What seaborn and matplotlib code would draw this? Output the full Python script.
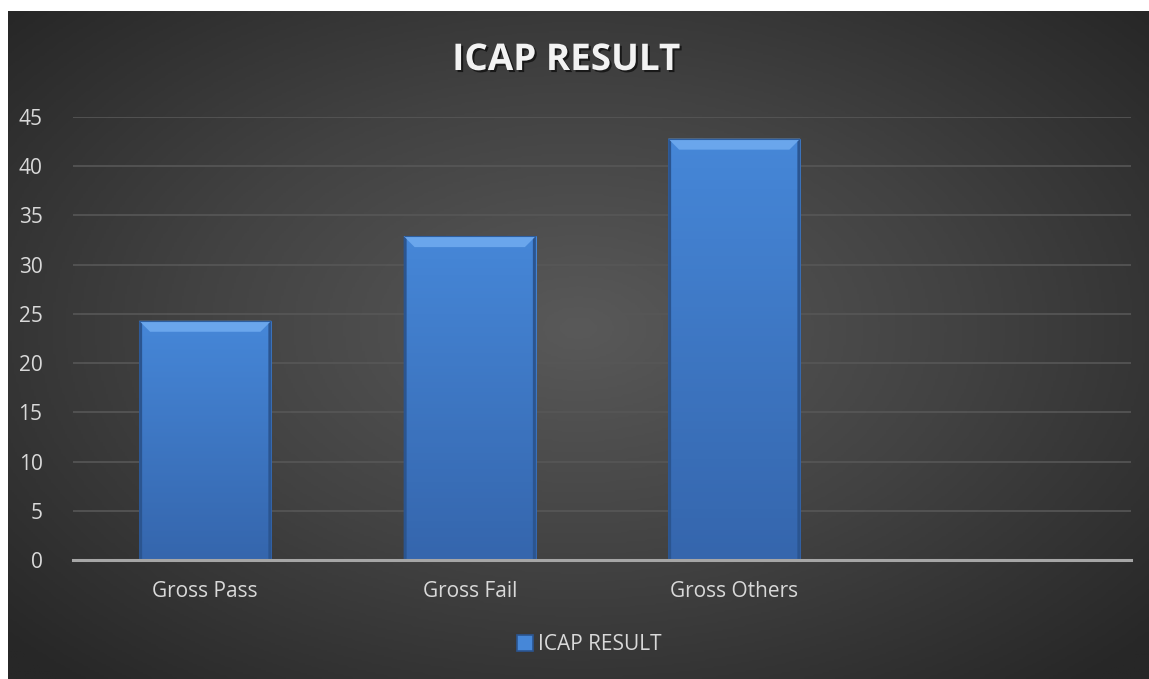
import numpy as np
import matplotlib
matplotlib.use("Agg")
import matplotlib.pyplot as plt
import seaborn as sns
import pandas as pd
from matplotlib.colors import LinearSegmentedColormap
from matplotlib.patches import Polygon, Patch
import matplotlib.patheffects as pe


TITLE = "ICAP RESULT"
SERIES_NAME = "ICAP RESULT"
CATEGORIES = ["Gross Pass", "Gross Fail", "Gross Others"]
VALUES = [24.3, 32.9, 42.8]
Y_TICKS = [0, 5, 10, 15, 20, 25, 30, 35, 40, 45]

W, H = 1149, 679
TEXT_COLOR = "#d9d9d9"
BAR_TOP = "#4687d8"
BAR_BOTTOM = "#3566ad"
BEVEL_LIGHT = "#6aa6ec"
BEVEL_DARK = "#2b5590"

sns.set_theme(style="dark")
plt.rcParams["font.family"] = ["Open Sans", "DejaVu Sans"]

df = pd.DataFrame({"category": CATEGORIES, "value": VALUES})

fig = plt.figure(figsize=(W / 100, H / 100), dpi=100)
fig.patch.set_facecolor("white")

# radial dark background of the chart area
bg = fig.add_axes([8 / W, 0, (W - 8) / W, (H - 11) / H])
bg.set_axis_off()
yy, xx = np.mgrid[-1:1:300j, -1:1:500j]
r = np.sqrt((xx / 1.0) ** 2 + ((yy + 0.05) / 1.05) ** 2)
bg_cmap = LinearSegmentedColormap.from_list("bg", ["#595959", "#424242", "#272727"])
bg.imshow(np.clip(r / 1.35, 0, 1), cmap=bg_cmap, aspect="auto", vmin=0, vmax=1,
          extent=[0, 1, 0, 1])
bg.set_xlim(0, 1)
bg.set_ylim(0, 1)

ax = fig.add_axes([73 / W, 119 / H, (1131 - 73) / W, 443 / H])
ax.patch.set_alpha(0)

sns.barplot(data=df, x="category", y="value", color=BAR_TOP, width=0.5,
            saturation=1, ax=ax, zorder=3, linewidth=0)

ax.set_xlim(-0.5, 3.5)
ax.set_ylim(0, 45)
ax.set_yticks(Y_TICKS)
ax.set_xlabel("")
ax.set_ylabel("")
ax.grid(axis="y", color="#575757", linewidth=1.2, zorder=0)
ax.grid(axis="x", visible=False)
for side in ["top", "right", "left"]:
    ax.spines[side].set_visible(False)
ax.spines["bottom"].set_color("#a6a6a6")
ax.spines["bottom"].set_linewidth(2.2)
ax.spines["bottom"].set_zorder(5)
ax.tick_params(axis="y", length=0, pad=22, labelsize=15, labelcolor=TEXT_COLOR)
ax.tick_params(axis="x", length=0, pad=15, labelsize=15, labelcolor=TEXT_COLOR)

# bevel look on each bar
grad = np.linspace(1, 0, 100).reshape(-1, 1)
bar_cmap = LinearSegmentedColormap.from_list("bar", [BAR_BOTTOM, BAR_TOP])
fig.canvas.draw()
inv = ax.transData.inverted()
for bar in list(ax.patches):
    x0, y0 = bar.get_x(), bar.get_y()
    x1, y1 = x0 + bar.get_width(), y0 + bar.get_height()
    im = ax.imshow(grad, extent=[x0, x1, y0, y1], aspect="auto", cmap=bar_cmap,
                   zorder=3.5)
    im.set_clip_path(bar)
    (px0, py0), (px1, py1) = ax.transData.transform([(x0, y0), (x1, y1)])
    b = 11
    s = 3
    top = [(px0, py1), (px1, py1), (px1 - b, py1 - b), (px0 + b, py1 - b)]
    left = [(px0, py0), (px0, py1), (px0 + s, py1 - s), (px0 + s, py0)]
    right = [(px1, py0), (px1, py1), (px1 - s, py1 - s), (px1 - s, py0)]
    ax.add_patch(Polygon(inv.transform(top), closed=True, facecolor=BEVEL_LIGHT,
                         edgecolor="none", zorder=4))
    ax.add_patch(Polygon(inv.transform(left), closed=True, facecolor=BEVEL_DARK,
                         edgecolor="none", zorder=4))
    ax.add_patch(Polygon(inv.transform(right), closed=True, facecolor=BEVEL_DARK,
                         edgecolor="none", zorder=4))
    ax.add_patch(Polygon(inv.transform([(px0, py1), (px1, py1)]), closed=False,
                         facecolor="none", edgecolor="#2d5ea0", linewidth=0.8,
                         zorder=4.5))

ax.set_xlim(-0.5, 3.5)
ax.set_ylim(0, 45)

fig.text(566 / W, 1 - 60 / H, TITLE, ha="center", va="center", fontsize=26.5,
         fontweight="bold", color="#f2f2f2",
         path_effects=[pe.withSimplePatchShadow(offset=(1.5, -1.5),
                                                shadow_rgbFace="black", alpha=0.6)])

handle = Patch(facecolor=BAR_TOP, edgecolor=BEVEL_DARK, linewidth=1.2)
fig.legend([handle], [SERIES_NAME], loc="center", bbox_to_anchor=(589 / W, 34 / H),
           frameon=False, fontsize=15, labelcolor=TEXT_COLOR, handlelength=0.8,
           handleheight=0.8, handletextpad=0.2)

fig.savefig("out.png", dpi=100)
